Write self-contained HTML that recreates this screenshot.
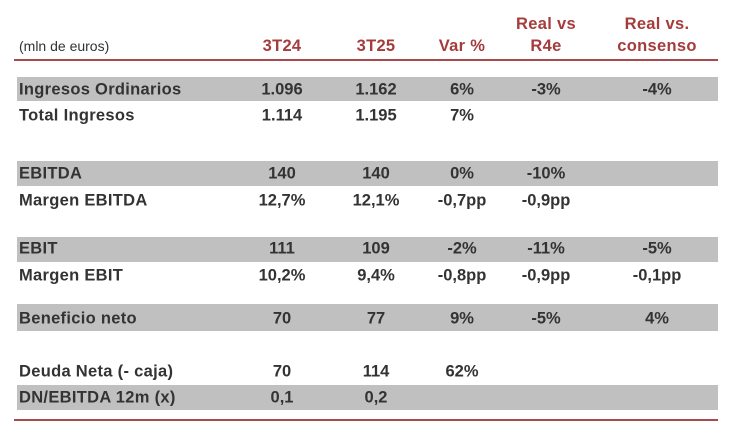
<!DOCTYPE html>
<html><head><meta charset="utf-8"><style>
body{margin:0;width:739px;height:435px;background:#fff;position:relative;overflow:hidden;font-family:"Liberation Sans",Arial,sans-serif;}
.band{position:absolute;left:17px;width:701px;background:#c0c0c0;}
.line{position:absolute;left:14px;width:704px;height:2px;background:#a84a4a;}
.t{position:absolute;font-size:16.5px;font-weight:bold;color:#333;white-space:nowrap;transform:translate(-50%,-50%);}
.l{position:absolute;left:19px;font-size:16.5px;font-weight:bold;color:#333;white-space:nowrap;transform:translateY(-50%);letter-spacing:0.3px;}
.h{position:absolute;font-size:16.5px;font-weight:bold;color:#a53c3c;text-align:center;white-space:nowrap;transform:translateX(-50%);line-height:22px;letter-spacing:0.3px;}
</style></head><body>
<div class="band" style="top:77px;height:24px"></div>
<div class="band" style="top:161px;height:25px"></div>
<div class="band" style="top:237px;height:25px"></div>
<div class="band" style="top:304px;height:27px"></div>
<div class="band" style="top:385px;height:25px"></div>
<div class="line" style="top:59px"></div>
<div class="line" style="top:419px"></div>
<div style="position:absolute;left:19px;top:38px;font-size:14px;color:#333">(mln de euros)</div>
<div class="h" style="left:282px;top:35px">3T24</div>
<div class="h" style="left:376px;top:35px">3T25</div>
<div class="h" style="left:462px;top:35px">Var %</div>
<div class="h" style="left:546px;top:13px">Real vs<br>R4e</div>
<div class="h" style="left:657px;top:13px">Real vs.<br>consenso</div>

<div class="l" style="top:90px">Ingresos Ordinarios</div>
<div class="t" style="left:282px;top:90px">1.096</div><div class="t" style="left:376px;top:90px">1.162</div><div class="t" style="left:462px;top:90px">6%</div><div class="t" style="left:546px;top:90px">-3%</div><div class="t" style="left:657px;top:90px">-4%</div>
<div class="l" style="top:116px">Total Ingresos</div>
<div class="t" style="left:282px;top:116px">1.114</div><div class="t" style="left:376px;top:116px">1.195</div><div class="t" style="left:462px;top:116px">7%</div>

<div class="l" style="top:174px">EBITDA</div>
<div class="t" style="left:282px;top:174px">140</div><div class="t" style="left:376px;top:174px">140</div><div class="t" style="left:462px;top:174px">0%</div><div class="t" style="left:546px;top:174px">-10%</div>
<div class="l" style="top:201px">Margen EBITDA</div>
<div class="t" style="left:282px;top:201px">12,7%</div><div class="t" style="left:376px;top:201px">12,1%</div><div class="t" style="left:462px;top:201px">-0,7pp</div><div class="t" style="left:546px;top:201px">-0,9pp</div>

<div class="l" style="top:249px">EBIT</div>
<div class="t" style="left:282px;top:249px">111</div><div class="t" style="left:376px;top:249px">109</div><div class="t" style="left:462px;top:249px">-2%</div><div class="t" style="left:546px;top:249px">-11%</div><div class="t" style="left:657px;top:249px">-5%</div>
<div class="l" style="top:276px">Margen EBIT</div>
<div class="t" style="left:282px;top:276px">10,2%</div><div class="t" style="left:376px;top:276px">9,4%</div><div class="t" style="left:462px;top:276px">-0,8pp</div><div class="t" style="left:546px;top:276px">-0,9pp</div><div class="t" style="left:657px;top:276px">-0,1pp</div>

<div class="l" style="top:319px">Beneficio neto</div>
<div class="t" style="left:282px;top:319px">70</div><div class="t" style="left:376px;top:319px">77</div><div class="t" style="left:462px;top:319px">9%</div><div class="t" style="left:546px;top:319px">-5%</div><div class="t" style="left:657px;top:319px">4%</div>

<div class="l" style="top:372px">Deuda Neta (- caja)</div>
<div class="t" style="left:282px;top:372px">70</div><div class="t" style="left:376px;top:372px">114</div><div class="t" style="left:462px;top:372px">62%</div>
<div class="l" style="top:398px">DN/EBITDA 12m (x)</div>
<div class="t" style="left:282px;top:398px">0,1</div><div class="t" style="left:376px;top:398px">0,2</div>
</body></html>
